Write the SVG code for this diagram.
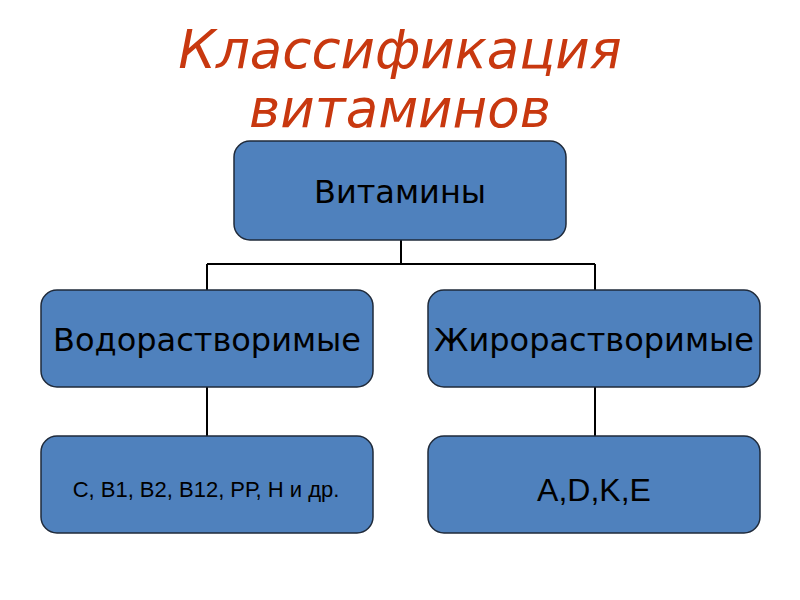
<svg xmlns="http://www.w3.org/2000/svg" width="800" height="600" viewBox="0 0 800 600">
<style>
.box{fill:#4F81BD;stroke:#1F2A3A;stroke-width:1.5}
.lbl{font-family:"DejaVu Sans",sans-serif;font-size:32px;fill:#000;text-anchor:middle}
.lbl2{font-family:"Liberation Sans",Arial,sans-serif;fill:#000;text-anchor:middle}
.title{font-family:"DejaVu Sans",sans-serif;font-style:oblique;font-size:53px;fill:#C8380F;text-anchor:middle}
.conn{stroke:#000;stroke-width:2;fill:none}
</style>
<rect width="800" height="600" fill="#fff"/>
<text class="title" x="400" y="68">Классификация</text>
<text class="title" x="400" y="127">витаминов</text>
<g id="connectors">
<path class="conn" d="M401 240V264M207 264H595M207 264V290M595 264V290M207 387V436M595 387V436"/>
</g>
<g id="vitamins">
<rect class="box" x="234" y="141" width="332" height="99" rx="16"/>
<text class="lbl" x="400" y="203">Витамины</text>
</g>
<g id="water">
<rect class="box" x="41" y="290" width="332" height="97" rx="16"/>
<text class="lbl" x="207" y="351">Водорастворимые</text>
</g>
<g id="fat">
<rect class="box" x="428" y="290" width="332" height="97" rx="16"/>
<text class="lbl" x="594" y="351">Жирорастворимые</text>
</g>
<g id="water-list">
<rect class="box" x="41" y="436" width="332" height="97" rx="16"/>
<text class="lbl2" x="206" y="497" font-size="22">С, В1, В2, В12, РР, Н и др.</text>
</g>
<g id="fat-list">
<rect class="box" x="428" y="436" width="332" height="97" rx="16"/>
<text class="lbl2" x="594" y="501" font-size="32">A,D,K,E</text>
</g>
</svg>
